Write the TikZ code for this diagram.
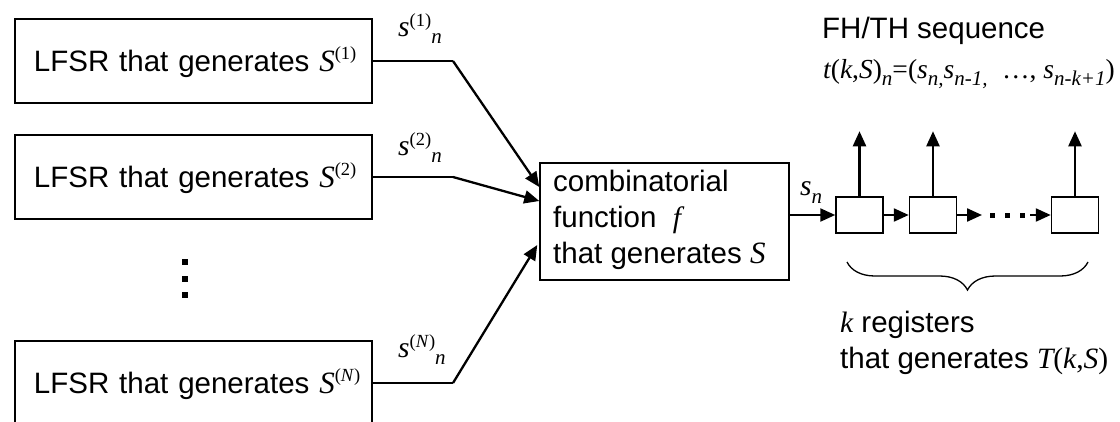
\documentclass[tikz,border=0pt]{standalone}
\usepackage{fontspec}
\setmainfont{Liberation Sans}
\newfontfamily\tnr{Liberation Serif}
\usetikzlibrary{arrows.meta,decorations.pathreplacing}

% italic serif symbol, sub- and superscripts
\newcommand{\mi}[1]{{\tnr\itshape #1}}
\newcommand{\lowx}[2][7pt]{\raisebox{-#1}{\fontsize{21}{21}\selectfont\tnr\itshape #2}}
\newcommand{\upx}[2][12pt]{\raisebox{#1}{\fontsize{18.5}{18.5}\selectfont\tnr #2}}

\begin{document}
\begin{tikzpicture}[x=1pt,y=-1pt,
  font=\fontsize{29.5}{36}\selectfont,
  lfsr/.style={draw, line width=1.5pt, minimum width=357pt, minimum height=84pt,
    text width=357pt, inner xsep=0pt, inner ysep=0pt, align=left,
    text height=20pt, text depth=0pt},
  reg/.style={draw, line width=1.5pt, minimum width=47pt, minimum height=36pt, inner sep=0pt},
  txt/.style={anchor=base west, inner sep=0pt},
  feed/.style={line width=1.6pt},
  flow/.style={line width=2.3pt, -{Triangle[length=15pt,width=13pt]}},
  dotmark/.style={fill=black}]
\useasboundingbox (0,0) rectangle (1120,421);
\clip (0,0) rectangle (1120,421);

% component LFSRs
\node[lfsr] (l1) at (193.5,61)  {\hspace*{19pt}LFSR that generates {\fontsize{31}{36}\selectfont\mi{S}}\upx{(1)}};
\node[lfsr] (l2) at (193.5,177) {\hspace*{19pt}LFSR that generates {\fontsize{31}{36}\selectfont\mi{S}}\upx{(2)}};
\node[lfsr] (l3) at (193.5,383) {\hspace*{19pt}LFSR that generates {\fontsize{31}{36}\selectfont\mi{S}}\upx{(\textit{N})}};

% vertical ellipsis
\foreach \yy in {262,279,295} \fill[dotmark] (182,\yy-3) rectangle ++(6,6);

% combining function
\node[draw, line width=1.5pt, minimum width=249pt, minimum height=117pt, inner sep=0pt]
  (comb) at (664.5,221.5) {};
\node[txt] (combtext) at (553,191) {\begin{tabular}[t]{@{}l@{}}
  \fontsize{29.5}{40}\selectfont combinatorial\\
  \fontsize{29.5}{40}\selectfont function\ \ \mi{f}\\
  \fontsize{29.5}{40}\selectfont that generates {\fontsize{31}{40}\selectfont\mi{S}}\end{tabular}};

% LFSR outputs into the combining function
\coordinate (b1) at (453,61);
\coordinate (b2) at (453,177);
\coordinate (b3) at (453,383);
\draw[feed] (l1.east) -- (b1);
\draw[feed] (l2.east) -- (b2);
\draw[feed] (l3.east) -- (b3);
\draw[flow] (b1) -- ([yshift=34.5pt]comb.west);
\draw[flow] (b2) -- ([yshift=20.5pt]comb.west);
\draw[flow] (b3) -- ([yshift=-23.5pt,xshift=-2pt]comb.west);

\node[txt] (o1) at (398,36)  {\mi{s}\upx[10pt]{(1)}\lowx{n}};
\node[txt] (o2) at (398,155) {\mi{s}\upx[10pt]{(2)}\lowx{n}};
\node[txt] (o3) at (398,357) {\mi{s}\upx[10pt]{(\textit{N})}\lowx{n}};

% shift registers
\node[reg] (r1) at (859.5,215) {};
\node[reg] (r2) at (933,215) {};
\node[reg] (r3) at (1075,215) {};

\draw[flow] (comb.east |- r1.west) -- (r1.west);
\node[txt] (sn) at (800,195) {\mi{s}\lowx[8pt]{n}};
\draw[flow] (r1.east) -- (r2.west);
\coordinate (e1) at (982,215);
\coordinate (e2) at (1030,215);
\draw[flow] (r2.east) -- (e1);
\foreach \xx in {992,1007,1022} \fill[dotmark] (\xx-2.5,212.5) rectangle ++(5,5);
\draw[flow] (e2) -- (r3.west);

% register outputs
\draw[flow] (r1.north) -- ++(0,-65);
\draw[flow] (r2.north) -- ++(0,-65);
\draw[flow] (r3.north) -- ++(0,-65);

\node[txt] (title) at (822,38) {FH/TH sequence};
\node[txt] (formula) at (823,78) {\fontsize{27.5}{30}\selectfont
  \mi{t}{\tnr(}\mi{k}{\tnr,}\mi{S}{\tnr)}\lowx{n}{\tnr=(}\mi{s}\lowx{n,}\mi{s}\lowx{n-1,}
  {\tnr\ \dots,\ }\mi{s}\lowx{n-k+1}{\tnr)}};

% brace under the registers
\draw[line width=1.3pt, decorate, decoration={brace, mirror, amplitude=28pt}]
  (847,262) -- (1088,262);
\node[txt] (klabel) at (840,332) {\begin{tabular}[t]{@{}l@{}}
  \fontsize{29.5}{38}\selectfont \mi{k} registers\\
  \fontsize{29.5}{38}\selectfont that generates \mi{T}{\tnr(}\mi{k}{\tnr,}\mi{S}{\tnr)}\end{tabular}};
\end{tikzpicture}
\end{document}
